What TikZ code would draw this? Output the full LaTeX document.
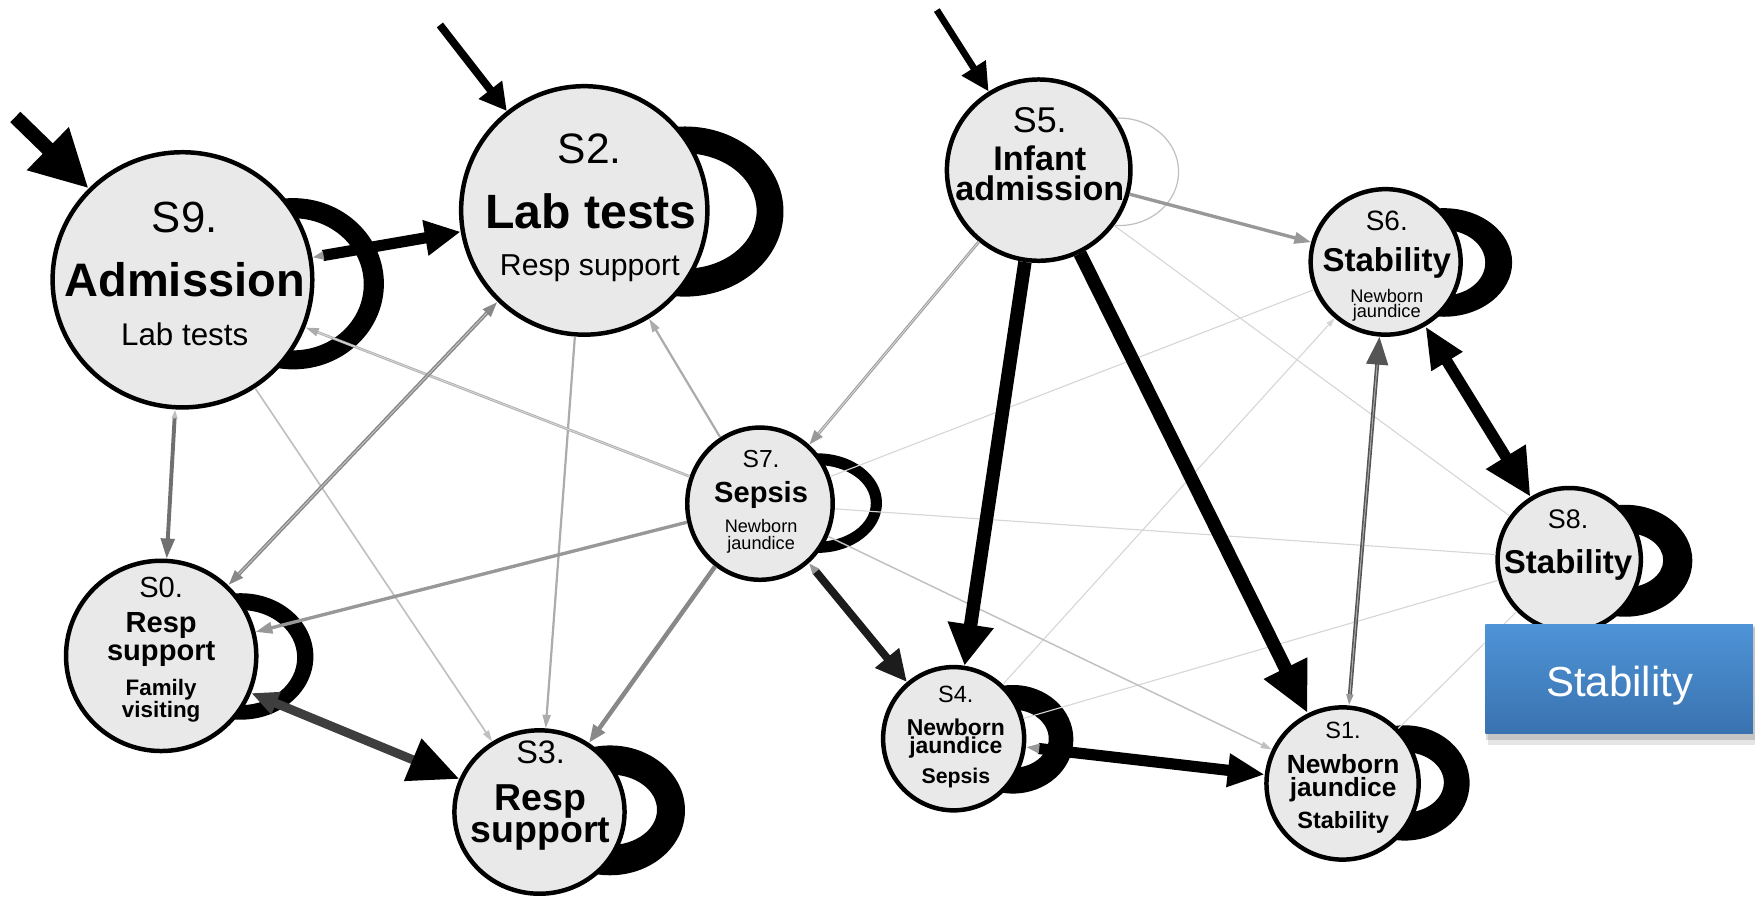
\documentclass[tikz,border=0pt]{standalone}
\usepackage{fontspec}
\setmainfont{Liberation Sans}
\usetikzlibrary{arrows.meta,shapes.geometric,calc}

\definecolor{nodefill}{RGB}{233,233,233}
\definecolor{g1}{RGB}{28,28,28}
\definecolor{g3}{RGB}{62,62,62}
\definecolor{g4}{RGB}{85,85,85}
\definecolor{g5}{RGB}{112,112,112}
\definecolor{g6}{RGB}{136,136,136}
\definecolor{g7}{RGB}{152,152,152}
\definecolor{g8}{RGB}{172,172,172}
\definecolor{g9}{RGB}{192,192,192}
\definecolor{g10}{RGB}{214,214,214}
\definecolor{boxtop}{RGB}{78,148,215}
\definecolor{boxbot}{RGB}{58,114,176}

\newcommand\fz[1]{\fontsize{#1pt}{#1pt}\selectfont}

% thick self-loop drawn as a crescent between two ellipses:
% centre x, outer right/top/bottom, inner right/top/bottom
\newcommand\selfring[7]{%
  \pgfmathsetmacro\ringOx{#2-#1}%
  \pgfmathsetmacro\ringOy{(#4-#3)/2}%
  \pgfmathsetmacro\ringOc{-(#4+#3)/2}%
  \pgfmathsetmacro\ringIx{#5-#1}%
  \pgfmathsetmacro\ringIy{(#7-#6)/2}%
  \pgfmathsetmacro\ringIc{-(#7+#6)/2}%
  \fill[black,even odd rule] (#1,\ringOc) ellipse [x radius=\ringOx pt, y radius=\ringOy pt]
       (#1,\ringIc) ellipse [x radius=\ringIx pt, y radius=\ringIy pt];}

\begin{document}
\begin{tikzpicture}[x=1pt,y=1pt,
  state/.style={ellipse, draw=black, line width=4pt, fill=nodefill, inner sep=0pt},
  lab/.style={anchor=base, inner sep=0pt, outer sep=0pt, text=black},
  faint/.style={draw=g10, line width=1pt},
  core/.style={line width=0.9pt}
]
\useasboundingbox (0,0) rectangle (1568,-801);

% ---- self loops (behind the states)
\selfring{262}{343}{177}{330}{325}{195}{313}
\selfring{612}{700}{113}{265}{676}{137}{240}
\selfring{1290}{1351}{186}{283}{1327}{205.5}{264}
\selfring{730}{788}{405}{494}{778}{415.5}{484}
\selfring{215}{280}{530}{643}{265.5}{545}{630}
\selfring{545}{612}{666}{782}{587}{692}{755}
\selfring{905}{959}{612}{709}{937}{634}{686}
\selfring{1255}{1313}{648}{751}{1290}{672}{726}
\selfring{1452}{1512}{451}{551}{1486}{476}{525}
\draw[draw=g9, line width=1.1pt] (1000,-153.5) ellipse [x radius=53pt, y radius=48pt];

% ---- states
\node[state, minimum width=232pt, minimum height=228pt] (s9) at (163,-250) {};
\node[state, minimum width=220pt, minimum height=222pt] (s2) at (522,-188) {};
\node[state, minimum width=164pt, minimum height=162pt] (s5) at (928,-152) {};
\node[state, minimum width=134pt, minimum height=130pt] (s6) at (1238,-234) {};
\node[state, minimum width=130pt, minimum height=136pt] (s7) at (679,-450) {};
\node[state, minimum width=170pt, minimum height=170pt] (s0) at (144,-586) {};
\node[state, minimum width=152pt, minimum height=146pt] (s3) at (482,-725.5) {};
\node[state, minimum width=126pt, minimum height=128pt] (s4) at (852,-660) {};
\node[state, minimum width=136pt, minimum height=136pt] (s1) at (1199.5,-700) {};
\node[state, minimum width=128pt, minimum height=128pt] (s8) at (1402,-500) {};

% ---- faint transitions
\draw[faint] (s5) -- (s8);
\draw[faint] (s6) -- (s7);
\draw[faint, -{Triangle[length=8pt,width=5pt]}] (s4) -- (s6);
\draw[faint] (s7) -- (s8);
\draw[faint] (s4) -- (s8);
\draw[faint] (s1) -- (s8);

% ---- light transitions
\draw[draw=g9, line width=1.5pt, -{Triangle[length=10pt,width=6pt]}] (s9) -- (s3);
\draw[draw=g9, line width=1.3pt, -{Triangle[length=10pt,width=6pt]}] (s7) -- (s1);
\draw[draw=g8, line width=2pt, -{Triangle[length=12pt,width=7pt]}] (s7) -- (s2);
\draw[draw=g8, line width=2pt, -{Triangle[length=12pt,width=7pt]}] (s2) -- (s3);
\draw[draw=g8, line width=2.4pt, -{Triangle[length=12pt,width=7pt]}] (s7) -- (s9);
\draw[draw=g10, core, shorten >=12pt] (s7) -- (s9);

% ---- medium transitions
\draw[draw=g7, line width=3pt, -{Triangle[length=15pt,width=10pt]}] (s7) -- (s0);
\draw[draw=g6, line width=4pt, -{Triangle[length=16pt,width=12pt]}] (s7) -- (s3);
\draw[draw=g7, line width=3pt, -{Triangle[length=15pt,width=10pt]}] (s5) -- (s6);
\draw[draw=g7, line width=2.6pt, -{Triangle[length=13pt,width=9pt]}] (s5) -- (s7);
\draw[draw=g10, core, shorten >=13pt] (s5) -- (s7);
\draw[draw=g6, line width=3.4pt, {Triangle[length=14pt,width=9pt]}-{Triangle[length=14pt,width=9pt]}] (s0) -- (s2);
\draw[draw=g9, core, shorten >=14pt, shorten <=14pt] (s0) -- (s2);
\draw[draw=g5, line width=3.5pt, {Triangle[length=8pt,width=5pt,color=g9]}-{Triangle[length=18pt,width=12pt]}] (s9) -- (s0);
\draw[draw=g4, line width=3.6pt, {Triangle[length=10pt,width=6pt,color=g7]}-{Triangle[length=25pt,width=19pt]}] (s1) -- (s6);
\draw[draw=g8, core, shorten >=25pt, shorten <=10pt] (s1) -- (s6);

% ---- heavy transitions
\draw[draw=g3, line width=8pt, {Triangle[length=24pt,width=20pt,color=g3]}-{Triangle[length=45pt,width=39pt,color=black]}] (s0) -- (s3);
\draw[draw=g1, line width=7pt, {Triangle[length=10pt,width=7pt,color=g7]}-{Triangle[length=28pt,width=26pt]}] (s7) -- (s4);
\draw[black, line width=10pt, {Triangle[length=12pt,width=8pt,color=g7]}-{Triangle[length=33pt,width=28pt]}] (s4) -- (s1);
\draw[black, line width=10pt, {Triangle[length=10pt,width=7pt,color=g7]}-{Triangle[length=32pt,width=30pt]}] (s9) -- (s2);
\draw[black, line width=12pt, -{Triangle[length=37pt,width=39pt]}] (s5) -- (s4);
\draw[black, line width=12pt, -{Triangle[length=45pt,width=40pt]}] (s5) -- (s1);
\draw[black, line width=10pt, {Triangle[length=37pt,width=30pt]}-{Triangle[length=42pt,width=39pt]}] (s6) -- (s8);

% ---- entry arrows
\coordinate (i9) at (13.7,-104.5);
\coordinate (i2) at (393,-22.3);
\coordinate (i5) at (837,-9);
\draw[black, line width=13pt, -{Triangle[length=51pt,width=50pt]}] (i9) -- (s9);
\draw[black, line width=7pt, -{Triangle[length=24pt,width=25pt]}] (i2) -- (s2);
\draw[black, line width=6pt, -{Triangle[length=25pt,width=24pt]}] (i5) -- (s5);

% ---- state labels
\node[lab, font=\fz{39}] (s9a) at (165,-208) {S9.};
\node[lab, font=\fz{42}\bfseries] (s9b) at (165,-265) {Admission};
\node[lab, font=\fz{28}] (s9c) at (165,-309) {Lab tests};

\node[lab, font=\fz{38}] (s2a) at (527,-146) {S2.};
\node[lab, font=\fz{43}\bfseries] (s2b) at (528,-204) {Lab tests};
\node[lab, font=\fz{27}] (s2c) at (527,-246) {Resp support};

\node[lab, font=\fz{32}] (s5a) at (929,-118) {S5.};
\node[lab, font=\fz{30.5}\bfseries] (s5b) at (929,-152.5) {Infant};
\node[lab, font=\fz{30.5}\bfseries] (s5c) at (929,-179) {admission};

\node[lab, font=\fz{25}] (s6a) at (1239,-205.5) {S6.};
\node[lab, font=\fz{29.5}\bfseries] (s6b) at (1239,-243) {Stability};
\node[lab, font=\fz{16.3}] (s6c) at (1239,-270) {Newborn};
\node[lab, font=\fz{16.3}] (s6d) at (1239,-284) {jaundice};

\node[lab, font=\fz{22}] (s7a) at (680,-418) {S7.};
\node[lab, font=\fz{26}\bfseries] (s7b) at (680,-449) {Sepsis};
\node[lab, font=\fz{16.2}] (s7c) at (680,-476) {Newborn};
\node[lab, font=\fz{16.2}] (s7d) at (680,-491) {jaundice};

\node[lab, font=\fz{26}] (s0a) at (144,-534) {S0.};
\node[lab, font=\fz{26}\bfseries] (s0b) at (144,-565) {Resp};
\node[lab, font=\fz{26}\bfseries] (s0c) at (144,-590) {support};
\node[lab, font=\fz{20}\bfseries] (s0d) at (144,-621) {Family};
\node[lab, font=\fz{20}\bfseries] (s0e) at (144,-640.6) {visiting};

\node[lab, font=\fz{29}] (s3a) at (483,-682) {S3.};
\node[lab, font=\fz{33.5}\bfseries] (s3b) at (483,-724) {Resp};
\node[lab, font=\fz{33.5}\bfseries] (s3c) at (483,-753) {support};

\node[lab, font=\fz{21}] (s4a) at (854,-628) {S4.};
\node[lab, font=\fz{20.5}\bfseries] (s4b) at (854,-657) {Newborn};
\node[lab, font=\fz{20.5}\bfseries] (s4c) at (854,-673.5) {jaundice};
\node[lab, font=\fz{19}\bfseries] (s4d) at (854,-700) {Sepsis};

\node[lab, font=\fz{21}] (s1a) at (1200,-660) {S1.};
\node[lab, font=\fz{23.5}\bfseries] (s1b) at (1200,-691.5) {Newborn};
\node[lab, font=\fz{23.5}\bfseries] (s1c) at (1200,-712) {jaundice};
\node[lab, font=\fz{21}\bfseries] (s1d) at (1200,-740) {Stability};

\node[lab, font=\fz{24}] (s8a) at (1401,-472) {S8.};
\node[lab, font=\fz{29.5}\bfseries] (s8b) at (1401,-512) {Stability};

% ---- highlighted state box
\fill[black, opacity=0.10] (1329,-561) rectangle (1568,-666);
\fill[black, opacity=0.14] (1328,-559) rectangle (1568,-661);
\node[rectangle, minimum width=239pt, minimum height=97.4pt, inner sep=0pt,
      top color=boxtop, bottom color=boxbot] (bx) at (1446.5,-606.3) {};
\node[lab, font=\fz{37.5}, text=white] (bxt) at (1447,-622.7) {Stability};
\end{tikzpicture}
\end{document}
